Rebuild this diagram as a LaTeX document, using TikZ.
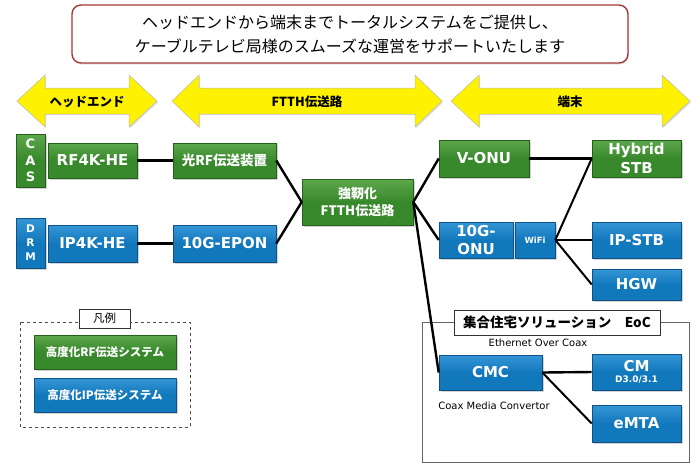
\documentclass[tikz,border=0pt]{standalone}
\usepackage{fontspec}
\setmainfont{Noto Sans CJK JP}
\newfontfamily\lat{DejaVu Sans}
\usetikzlibrary{shadows}
\definecolor{gmain}{RGB}{56,136,44}
\definecolor{gtop}{RGB}{92,168,74}
\definecolor{gdark}{RGB}{36,96,28}
\definecolor{bmain}{RGB}{18,120,188}
\definecolor{btop}{RGB}{52,150,214}
\definecolor{bdark}{RGB}{14,82,136}
\definecolor{titlered}{RGB}{165,55,55}
\tikzset{
  box/.style={line width=0.6pt, text=white, align=center, inner sep=0pt,
    drop shadow={shadow xshift=1.5pt, shadow yshift=-1.8pt, opacity=0.35}},
  gbox/.style={box, top color=gtop, bottom color=gmain, middle color=gmain, draw=gdark},
  bbox/.style={box, top color=btop, bottom color=bmain, middle color=bmain, draw=bdark},
  latlab/.style={font=\lat\bfseries\fontsize{15}{18.5}\selectfont},
  jplab/.style={font=\bfseries\fontsize{13.5}{17}\selectfont},
  conn/.style={line width=2.4pt, black},
  thinconn/.style={line width=2pt, black},
  yarrow/.style={fill=yellow, draw=gray!55, line width=0.5pt,
    drop shadow={shadow xshift=1.2pt, shadow yshift=-1.2pt, opacity=0.25}},
  arrowtext/.style={font=\bfseries\fontsize{12.5}{15}\selectfont, text=black},
}
\begin{document}
\begin{tikzpicture}[x=1pt,y=-1pt]
\useasboundingbox (0,0) rectangle (700,472);
% title
\node[draw=titlered, line width=1.4pt, rounded corners=9pt, fill=white,
  minimum width=556pt, minimum height=58pt, align=center,
  font=\fontsize{16}{24}\selectfont,
  drop shadow={shadow xshift=1pt, shadow yshift=-1.5pt, opacity=0.2}]
  (title) at (350,34) {ヘッドエンドから端末までトータルシステムをご提供し、\\ケーブルテレビ局様のスムーズな運営をサポートいたします};
% yellow arrows
\draw[yarrow] (17,101) -- (45,75) -- (45,88) -- (129,88) -- (129,75) -- (157,101) -- (129,127) -- (129,114) -- (45,114) -- (45,127) -- cycle;
\node[arrowtext] (a1) at (87,102) {ヘッドエンド};
\draw[yarrow] (172,101) -- (199,75) -- (199,88) -- (415,88) -- (415,75) -- (442,101) -- (415,127) -- (415,114) -- (199,114) -- (199,127) -- cycle;
\node[arrowtext] (a2) at (307,102) {FTTH伝送路};
\draw[yarrow] (451,101) -- (479,75) -- (479,88) -- (662,88) -- (662,75) -- (690,101) -- (662,127) -- (662,114) -- (479,114) -- (479,127) -- cycle;
\node[arrowtext] (a3) at (570,102) {端末};
% head end
\node[gbox, minimum width=29pt, minimum height=53pt,
  font=\lat\bfseries\fontsize{13}{16.5}\selectfont] (cas) at (30.5,160.5) {C\\A\\S};
\node[gbox, latlab, minimum width=89pt, minimum height=35pt] (rf4k) at (92.5,160.5) {RF4K-HE};
\node[gbox, jplab, minimum width=103pt, minimum height=35pt] (optrf) at (224.5,160.5) {光RF伝送装置};
\node[bbox, minimum width=29pt, minimum height=50pt,
  font=\lat\bfseries\fontsize{10.5}{14}\selectfont] (drm) at (30.5,243) {D\\R\\M};
\node[bbox, latlab, minimum width=89pt, minimum height=37pt] (ip4k) at (92.5,243.5) {IP4K-HE};
\node[bbox, latlab, minimum width=103pt, minimum height=37pt] (epon) at (224.5,243.5) {10G-EPON};
% FTTH
\node[gbox, font=\bfseries\fontsize{13}{17}\selectfont, minimum width=111pt, minimum height=46pt] (ftth) at (357.5,202) {強靭化\\FTTH伝送路};
% terminals
\node[gbox, latlab, minimum width=90pt, minimum height=37pt] (vonu) at (484,158.5) {V-ONU};
\node[gbox, latlab, minimum width=89pt, minimum height=37pt] (hybrid) at (636.5,158.5) {Hybrid\\STB};
\node[bbox, latlab, minimum width=74pt, minimum height=36pt] (onu) at (476,240) {10G-\\ONU};
\node[bbox, font=\lat\bfseries\fontsize{8.5}{10}\selectfont, minimum width=40pt, minimum height=36pt] (wifi) at (535,240) {WiFi};
\node[bbox, latlab, minimum width=89pt, minimum height=36pt] (ipstb) at (636.5,240) {IP-STB};
\node[bbox, latlab, minimum width=89pt, minimum height=31pt] (hgw) at (636.5,284.5) {HGW};
% EoC
\draw[gray!80!black, line width=0.8pt] (422,322) rectangle (689,462);
\node[draw=gray!40!black, line width=0.8pt, fill=white, minimum width=206pt, minimum height=25pt,
  font=\bfseries\fontsize{13.5}{16}\selectfont, inner sep=0pt] (eoc) at (557,322.5) {集合住宅ソリューション　EoC};
\node[font=\lat\fontsize{10}{11}\selectfont] (eth) at (538,343) {Ethernet Over Coax};
\node[bbox, latlab, minimum width=103pt, minimum height=35pt] (cmc) at (490.5,372.5) {CMC};
\node[font=\lat\fontsize{10}{11}\selectfont] (cmcl) at (494,406) {Coax Media Convertor};
\node[bbox, minimum width=89pt, minimum height=36pt] (cm) at (636.5,372) {{\lat\bfseries\fontsize{15}{15}\selectfont CM}\\[-1pt]{\lat\bfseries\fontsize{9}{10}\selectfont D3.0/3.1}};
\node[bbox, latlab, minimum width=89pt, minimum height=37pt] (emta) at (636.5,423.5) {eMTA};
% legend
\draw[gray!60!black, dashed, line width=0.8pt] (20,322) rectangle (190,427);
\node[draw=gray!40!black, line width=0.7pt, fill=white, minimum width=51pt, minimum height=19pt,
  font=\fontsize{11.5}{12}\selectfont, inner sep=0pt] (leg) at (104.5,318.5) {凡例};
\node[gbox, font=\bfseries\fontsize{11.5}{13}\selectfont, minimum width=142pt, minimum height=34pt] (lg) at (105,352) {高度化RF伝送システム};
\node[bbox, font=\bfseries\fontsize{11.5}{13}\selectfont, minimum width=142pt, minimum height=34pt] (lb) at (105,395) {高度化IP伝送システム};
% connectors
\draw[conn] (rf4k.east) -- (optrf.west);
\draw[conn] (ip4k.east) -- (epon.west);
\draw[conn] (optrf.east) -- (ftth.west);
\draw[conn] (epon.east) -- (ftth.west);
\draw[conn] (ftth.east) -- (vonu.west);
\draw[conn] (ftth.east) -- (onu.west);
\draw[conn] (ftth.east) -- (cmc.west);
\draw[conn] (vonu.east) -- (hybrid.west);
\draw[thinconn] (wifi.east) -- (hybrid.west);
\draw[thinconn] (wifi.east) -- (ipstb.west);
\draw[thinconn] (wifi.east) -- (hgw.west);
\draw[conn] (cmc.east) -- (cm.west);
\draw[thinconn] (cmc.east) -- (emta.west);
\end{tikzpicture}
\end{document}
